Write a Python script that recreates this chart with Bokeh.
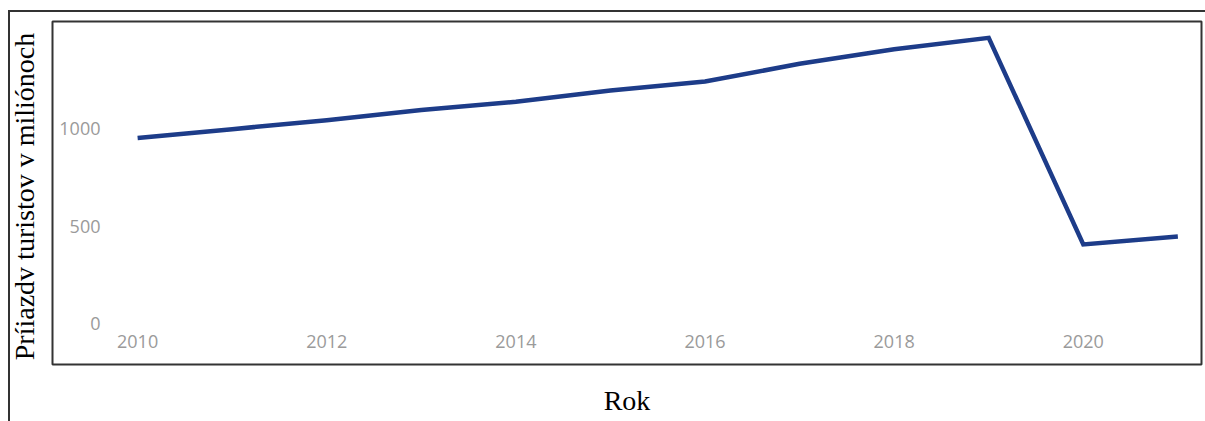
from bokeh.plotting import figure
from bokeh.models import Range1d, FixedTicker
from bokeh.embed import file_html
from bokeh.resources import INLINE

years = [2010, 2011, 2012, 2013, 2014, 2015, 2016, 2017, 2018, 2019, 2020, 2021]
arrivals = [952, 997, 1043, 1095, 1137, 1195, 1241, 1332, 1407, 1465, 406, 446]
x_ticks = [2010, 2012, 2014, 2016, 2018, 2020]
y_ticks = [0, 500, 1000]

p = figure(width=1205, height=421, output_backend="svg", toolbar_location=None,
           x_range=Range1d(2009.1, 2021.25), y_range=Range1d(-210, 1549),
           min_border_left=52, min_border_right=4, min_border_top=21, min_border_bottom=57)

p.line(years, arrivals, line_color="#1d3c89", line_width=4.5, line_join="miter")

p.grid.visible = False
p.outline_line_color = "#333333"
p.outline_line_width = 2
p.outline_line_alpha = 1
p.border_fill_color = None
p.background_fill_color = "white"
p.styles = {
    "background": "linear-gradient(#333,#333) 8px 10px / 1197px 2px no-repeat, "
                  "linear-gradient(#333,#333) 8px 10px / 2px 411px no-repeat, white"
}

for ax in (p.xaxis[0], p.yaxis[0]):
    ax.axis_line_color = None
    ax.major_tick_line_color = None
    ax.minor_tick_line_color = None
    ax.major_tick_out = 0
    ax.major_label_text_color = "#9a9a9a"
    ax.major_label_text_font = "Open Sans"
    ax.major_label_text_font_size = "18px"
    ax.axis_label_text_font = "Liberation Serif"
    ax.axis_label_text_font_style = "normal"
    ax.axis_label_text_font_size = "28px"
    ax.axis_label_text_color = "#000000"

p.xaxis.ticker = FixedTicker(ticks=x_ticks)
p.yaxis.ticker = FixedTicker(ticks=y_ticks)
p.xaxis.major_label_standoff = -30
p.yaxis.major_label_standoff = -48
p.xaxis.axis_label_standoff = 34
p.yaxis.axis_label_standoff = 16
p.xaxis.axis_label = "Rok"
p.yaxis.axis_label = "Príiazdv turistov  v miliónoch"

open("out.html", "w").write(file_html(p, INLINE))
